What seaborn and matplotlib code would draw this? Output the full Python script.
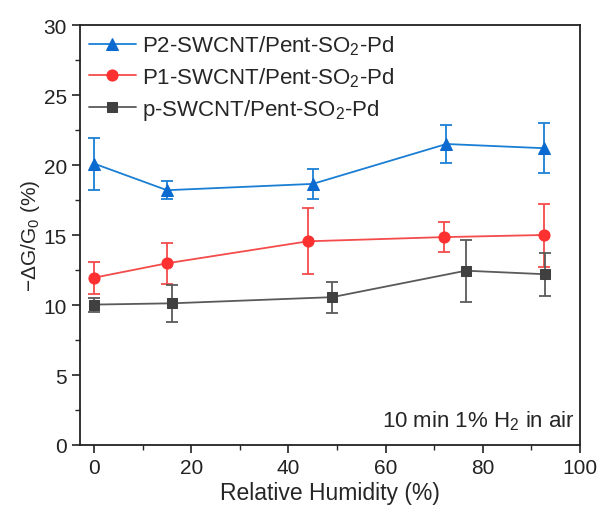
import matplotlib
matplotlib.use("Agg")
import matplotlib.pyplot as plt
from matplotlib.ticker import AutoMinorLocator
import seaborn as sns
import pandas as pd

# Data
rh_p2 = [0, 15, 45, 72.5, 92.5]
val_p2 = [20.1, 18.2, 18.65, 21.5, 21.2]
err_p2 = [1.85, 0.65, 1.1, 1.35, 1.8]

rh_p1 = [0, 15, 44, 72, 92.5]
val_p1 = [11.95, 12.98, 14.55, 14.85, 15.0]
err_p1 = [1.15, 1.45, 2.35, 1.07, 2.25]

rh_p = [0, 16, 49, 76.5, 92.7]
val_p = [10.03, 10.12, 10.56, 12.45, 12.2]
err_p = [0.5, 1.3, 1.1, 2.2, 1.55]

labels = ["P2-SWCNT/Pent-SO$_2$-Pd", "P1-SWCNT/Pent-SO$_2$-Pd", "p-SWCNT/Pent-SO$_2$-Pd"]
xticks = [0, 20, 40, 60, 80, 100]
yticks = [0, 5, 10, 15, 20, 25, 30]

sns.set_theme(style="ticks")
plt.rcParams['font.family'] = ['Liberation Sans', 'DejaVu Sans']
plt.rcParams['mathtext.fontset'] = 'custom'
plt.rcParams['mathtext.rm'] = 'Liberation Sans'
plt.rcParams['mathtext.it'] = 'Liberation Sans:italic'
plt.rcParams['mathtext.bf'] = 'Liberation Sans:bold'

fig = plt.figure(figsize=(5.97, 5.06), dpi=100)
ax = fig.add_axes([80/597, 1-446/506, (580-80)/597, (446-26)/506])

series = [
    (rh_p2, val_p2, err_p2, labels[0], "#1a7fd4", "#0a6ad0", "^", 9),
    (rh_p1, val_p1, err_p1, labels[1], "#f44b4b", "#ff3030", "o", 8),
    (rh_p, val_p, err_p, labels[2], "#5a5a5a", "#404040", "s", 7),
]

for x, y, e, lab, lc, mc, mk, ms in series:
    df = pd.DataFrame({"x": x, "y": y})
    ax.errorbar(x, y, yerr=e, fmt='none', ecolor=lc, elinewidth=1.3, capsize=4, capthick=1.3, zorder=2)
    sns.lineplot(data=df, x="x", y="y", ax=ax, color=lc, linewidth=1.3, marker=mk,
                 markersize=ms, markerfacecolor=mc, markeredgecolor=mc, label=lab, zorder=3)

ax.set_xlim(-2.9, 100)
ax.set_ylim(0, 30)
ax.set_xticks(xticks)
ax.set_yticks(yticks)
ax.xaxis.set_minor_locator(AutoMinorLocator(2))
ax.yaxis.set_minor_locator(AutoMinorLocator(2))
ax.tick_params(axis='both', which='major', direction='out', length=6, width=1.2, labelsize=15, colors='#222222')
ax.tick_params(axis='both', which='minor', direction='out', length=3.5, width=1.0)
for s in ax.spines.values():
    s.set_linewidth(1.3)
    s.set_color('#222222')

ax.set_xlabel("Relative Humidity (%)", fontsize=16.5, labelpad=3)
ax.set_ylabel("$-$ΔG/G$_0$ (%)", fontsize=15, labelpad=1)

leg = ax.legend(loc="upper left", frameon=False, fontsize=16, handlelength=2.1,
                handletextpad=0.3, labelspacing=0.35, borderaxespad=0.2, borderpad=0.2)

ax.text(0.99, 0.03, "10 min 1% H$_2$ in air", transform=ax.transAxes, ha='right', va='bottom',
        fontsize=16)

fig.savefig("out.png", dpi=100)
